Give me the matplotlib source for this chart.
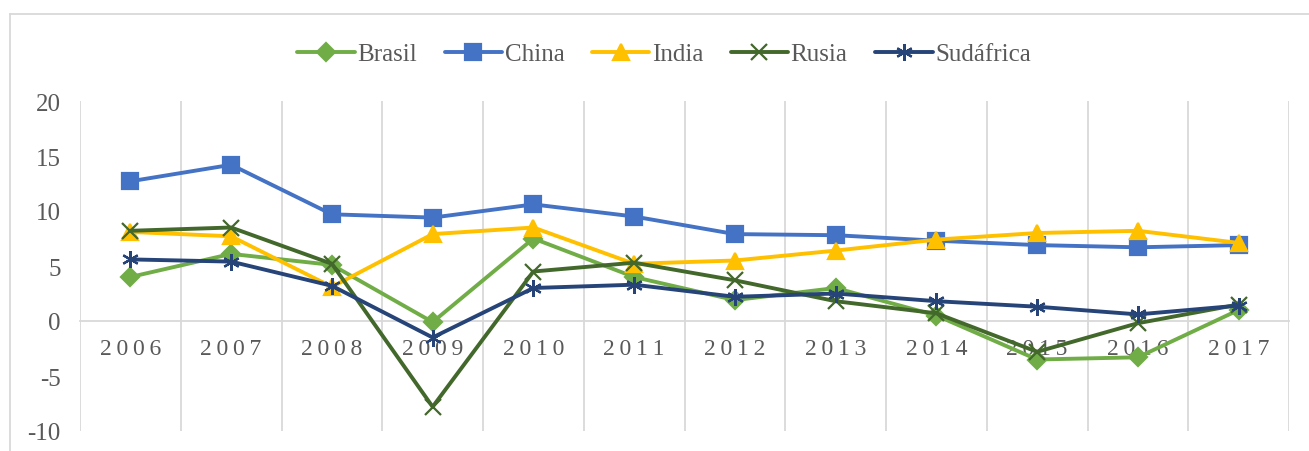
import matplotlib.pyplot as plt
from matplotlib.lines import Line2D

years = ["2006", "2007", "2008", "2009", "2010", "2011",
         "2012", "2013", "2014", "2015", "2016", "2017"]

brasil = [4.0, 6.1, 5.1, -0.1, 7.5, 4.0, 1.9, 3.0, 0.5, -3.5, -3.3, 1.0]
china = [12.7, 14.2, 9.7, 9.4, 10.6, 9.5, 7.9, 7.8, 7.3, 6.9, 6.7, 6.9]
india = [8.1, 7.7, 3.1, 7.9, 8.5, 5.2, 5.5, 6.4, 7.4, 8.0, 8.2, 7.1]
rusia = [8.2, 8.5, 5.2, -7.8, 4.5, 5.3, 3.7, 1.8, 0.7, -2.8, -0.2, 1.5]
sudafrica = [5.6, 5.4, 3.2, -1.5, 3.0, 3.3, 2.2, 2.5, 1.8, 1.3, 0.6, 1.4]

plt.rcParams['font.family'] = ['Liberation Serif', 'DejaVu Serif']
plt.rcParams['axes.unicode_minus'] = False

fig = plt.figure(figsize=(13.09, 4.52), dpi=100)
ax = fig.add_axes([80 / 1309, 1 - 432 / 452, (1289 - 80) / 1309, (432 - 102) / 452])

x = list(range(len(years)))
series = [
    ("Brasil", brasil, "#70AD47", "D", 9),
    ("China", china, "#4472C4", "s", 11),
    ("India", india, "#FFC000", "^", 12),
    ("Rusia", rusia, "#43682B", "x", 11),
    ("Sudáfrica", sudafrica, "#264478", (6, 2, 0), 12),
]
for name, vals, col, mk, ms in series:
    ax.plot(x, vals, color=col, lw=2.8, marker=mk, markersize=ms,
            markeredgewidth=1.6, label=name, solid_capstyle='round', zorder=3)

ax.set_xlim(-0.5, len(years) - 0.5)
ax.set_ylim(-10, 20)
ax.set_yticks([-10, -5, 0, 5, 10, 15, 20])

ax.set_xticks(x)
ax.set_xticklabels(["\u2009".join(y) for y in years])
ax.set_xticks([i - 0.5 for i in range(len(years) + 1)], minor=True)
ax.grid(which='minor', axis='x', color='#D9D9D9', lw=1.3)
ax.tick_params(which='both', length=0)
ax.tick_params(axis='y', labelsize=18, labelcolor='#595959', pad=14)
ax.tick_params(axis='x', labelsize=17, labelcolor='#595959', pad=12)

for s in ['top', 'right', 'left']:
    ax.spines[s].set_visible(False)
ax.spines['bottom'].set_position(('data', 0))
ax.spines['bottom'].set_color('#D9D9D9')
ax.spines['bottom'].set_linewidth(1.3)

ax.legend(loc='center', bbox_to_anchor=(664 / 1309, 1 - 55 / 452), bbox_transform=fig.transFigure,
          ncol=5, frameon=False, fontsize=18, labelcolor='#595959',
          handlelength=2.3, handletextpad=0.1, columnspacing=1.1)

# chart border (top and left visible)
fig.add_artist(Line2D([10 / 1309, 1], [1 - 15 / 452, 1 - 15 / 452], color='#D9D9D9', lw=1.3))
fig.add_artist(Line2D([10 / 1309, 10 / 1309], [0, 1 - 15 / 452], color='#D9D9D9', lw=1.3))

fig.savefig("out.png", dpi=100)
